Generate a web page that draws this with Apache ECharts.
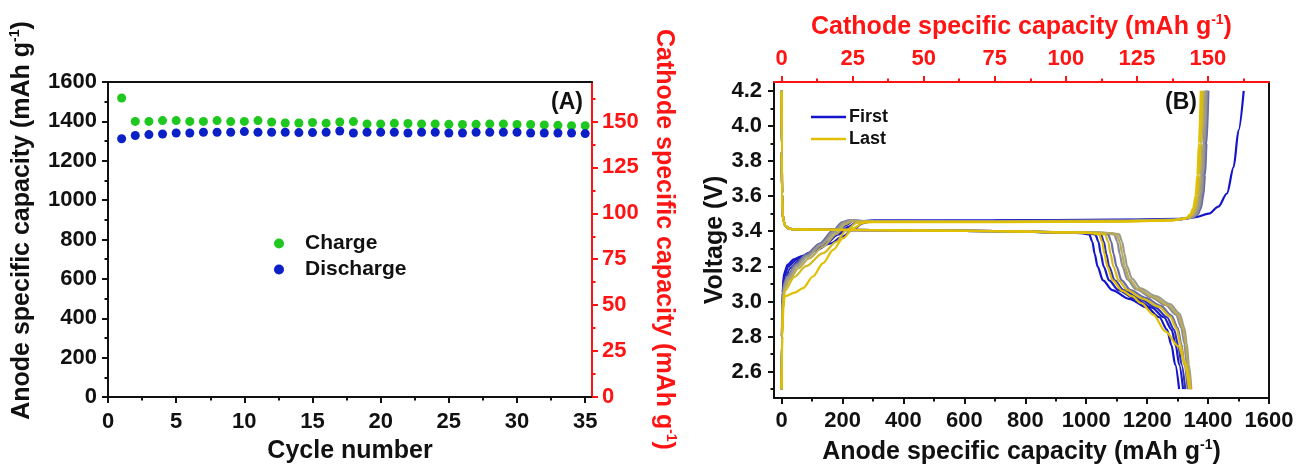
<!DOCTYPE html>
<html>
<head>
<meta charset="utf-8">
<script src="https://cdn.jsdelivr.net/npm/echarts@6/dist/echarts.min.js"></script>
<style>
  html, body { margin: 0; padding: 0; background: #fff; }
  #chart { width: 1296px; height: 465px; }
</style>
</head>
<body>
<div id="chart"></div>
<script>
  // ---- panel (A): capacity vs cycle ----
  const cycleNo = [1, 2, 3, 4, 5, 6, 7, 8, 9, 10, 11, 12, 13, 14, 15, 16, 17, 18, 19, 20,
    21, 22, 23, 24, 25, 26, 27, 28, 29, 30, 31, 32, 33, 34, 35]
  const chargeCap = [1519, 1400, 1400, 1404, 1404, 1400, 1400, 1404, 1399, 1400, 1404, 1397, 1392, 1392,
    1394, 1391, 1397, 1399, 1387, 1387, 1390, 1389, 1387, 1387, 1385, 1384, 1385, 1387, 1387, 1384,
    1384, 1382, 1380, 1378, 1378]
  const dischargeCap = [1312, 1328, 1333, 1336, 1341, 1341, 1345, 1345, 1345, 1348, 1345, 1345, 1345, 1343,
    1343, 1345, 1351, 1341, 1345, 1345, 1345, 1341, 1345, 1345, 1341, 1341, 1345, 1345, 1345, 1345,
    1341, 1341, 1341, 1341, 1338]
  const cycleTicks = [0, 5, 10, 15, 20, 25, 30, 35]
  const cycleMinor = [2.5, 7.5, 12.5, 17.5, 22.5, 27.5, 32.5]
  const anodeTicks = [0, 200, 400, 600, 800, 1000, 1200, 1400, 1600]
  const anodeMinor = [100, 300, 500, 700, 900, 1100, 1300, 1500]
  const cathodeTicks = [0, 25, 50, 75, 100, 125, 150]
  const cathodeMinor = [12.5, 37.5, 62.5, 87.5, 112.5, 137.5, 162.5]

  // ---- panel (B): voltage profiles, [anode capacity, voltage] ----
  const voltageTicks = [2.6, 2.8, 3.0, 3.2, 3.4, 3.6, 3.8, 4.0, 4.2]
  const voltageMinor = [2.5, 2.7, 2.9, 3.1, 3.3, 3.5, 3.7, 3.9, 4.1]

  const charge1 = [[0, 2.5], [1, 2.8], [3, 3.05], [8, 3.16], [20, 3.21], [40, 3.24], [70, 3.26], [110, 3.29], [160, 3.33], [200, 3.37], [235, 3.41], [265, 3.445], [300, 3.46], [700, 3.462], [1100, 3.466], [1314, 3.47], [1358, 3.48], [1402, 3.5], [1434, 3.54], [1462, 3.615], [1484, 3.766], [1500, 3.975], [1517, 4.2]]
  const charge2 = [[0, 2.5], [1, 2.8], [3, 3.03], [8, 3.14], [22, 3.2], [50, 3.24], [95, 3.28], [145, 3.33], [185, 3.38], [220, 3.425], [250, 3.455], [290, 3.46], [700, 3.46], [1100, 3.464], [1292, 3.466], [1342, 3.478], [1357, 3.495], [1367, 3.53], [1375, 3.6], [1381, 3.72], [1386, 3.9], [1392, 4.2]]
  const charge3 = [[0, 2.5], [1.5, 2.8], [4, 3.02], [10, 3.12], [28, 3.19], [60, 3.24], [105, 3.29], [150, 3.34], [185, 3.39], [212, 3.435], [235, 3.46], [280, 3.458], [700, 3.458], [1100, 3.462], [1298, 3.466], [1348, 3.478], [1363, 3.495], [1373, 3.53], [1381, 3.6], [1387, 3.72], [1392, 3.9], [1398, 4.2]]
  const charge4 = [[0, 2.5], [1, 2.8], [2, 3.0], [8, 3.1], [18, 3.14], [45, 3.21], [79, 3.265], [125, 3.33], [169, 3.405], [200, 3.452], [220, 3.462], [260, 3.458], [700, 3.457], [1100, 3.461], [1301, 3.466], [1351, 3.478], [1366, 3.495], [1376, 3.53], [1384, 3.6], [1390, 3.72], [1395, 3.9], [1401, 4.2]]
  const charge5 = [[0, 2.5], [1, 2.8], [2.5, 3.0], [9, 3.1], [20, 3.14], [48, 3.205], [82, 3.26], [128, 3.325], [172, 3.4], [203, 3.45], [225, 3.462], [265, 3.457], [700, 3.456], [1100, 3.46], [1296, 3.466], [1346, 3.478], [1361, 3.495], [1371, 3.53], [1379, 3.6], [1385, 3.72], [1390, 3.9], [1396, 4.2]]
  const charge6 = [[0, 2.5], [1, 2.8], [3, 3.0], [10, 3.09], [22, 3.13], [50, 3.2], [85, 3.255], [130, 3.32], [175, 3.395], [206, 3.448], [228, 3.46], [270, 3.456], [700, 3.455], [1100, 3.459], [1292, 3.465], [1342, 3.477], [1357, 3.495], [1367, 3.53], [1375, 3.6], [1381, 3.72], [1386, 3.9], [1392, 4.2]]
  const charge7 = [[0, 2.5], [1, 2.8], [3, 2.98], [12, 3.08], [26, 3.125], [55, 3.19], [90, 3.245], [135, 3.31], [180, 3.385], [210, 3.44], [232, 3.458], [275, 3.455], [700, 3.454], [1100, 3.458], [1286, 3.464], [1336, 3.476], [1351, 3.495], [1361, 3.53], [1369, 3.6], [1375, 3.72], [1380, 3.9], [1386, 4.2]]
  const charge8 = [[0, 2.5], [1.5, 2.8], [5, 2.98], [10, 3.06], [42, 3.14], [79, 3.2], [136, 3.275], [180, 3.34], [213, 3.407], [246, 3.448], [275, 3.455], [700, 3.453], [1100, 3.456], [1281, 3.462], [1331, 3.474], [1346, 3.495], [1356, 3.53], [1364, 3.6], [1370, 3.72], [1375, 3.9], [1381, 4.2]]
  const charge9 = [[0, 2.5], [2, 2.8], [6, 2.96], [10, 3.03], [43, 3.05], [70, 3.076], [103, 3.142], [136, 3.218], [169, 3.294], [202, 3.36], [235, 3.417], [268, 3.448], [300, 3.452], [700, 3.452], [1100, 3.455], [1276, 3.46], [1326, 3.472], [1341, 3.495], [1351, 3.53], [1359, 3.6], [1365, 3.72], [1370, 3.9], [1376, 4.2]]

  // every discharge starts with the same drop from 4.2 V onto the plateau
  const dischargeTop = [[0, 4.2], [0.5, 3.85], [1.5, 3.62], [3, 3.51], [6, 3.46], [12, 3.43], [25, 3.414], [45, 3.41], [300, 3.406], [700, 3.4]]
  const discharge1 = [[940, 3.393], [990, 3.388], [1010, 3.382], [1020, 3.34], [1028, 3.27], [1037, 3.2], [1055, 3.12], [1085, 3.065], [1140, 3.015], [1200, 2.965], [1240, 2.91], [1265, 2.84], [1280, 2.75], [1292, 2.64], [1305, 2.5]]
  const discharge2 = [[960, 3.393], [1010, 3.388], [1030, 3.382], [1040, 3.34], [1048, 3.27], [1057, 3.2], [1075, 3.12], [1105, 3.065], [1160, 3.015], [1215, 2.965], [1255, 2.91], [1280, 2.84], [1294, 2.75], [1305, 2.64], [1318, 2.5]]
  const discharge3 = [[980, 3.393], [1028, 3.388], [1048, 3.382], [1058, 3.34], [1066, 3.27], [1075, 3.2], [1093, 3.12], [1122, 3.065], [1175, 3.015], [1228, 2.965], [1265, 2.91], [1288, 2.84], [1302, 2.75], [1313, 2.64], [1325, 2.5]]
  const discharge4 = [[1000, 3.393], [1052, 3.388], [1072, 3.382], [1082, 3.34], [1090, 3.27], [1099, 3.2], [1116, 3.12], [1145, 3.065], [1195, 3.02], [1245, 2.975], [1280, 2.92], [1300, 2.85], [1312, 2.76], [1322, 2.64], [1333, 2.5]]
  const discharge5 = [[1020, 3.393], [1072, 3.388], [1092, 3.382], [1102, 3.34], [1110, 3.27], [1119, 3.2], [1135, 3.125], [1163, 3.07], [1212, 3.025], [1260, 2.98], [1295, 2.925], [1312, 2.85], [1322, 2.76], [1330, 2.64], [1340, 2.5]]
  const discharge6 = [[1036, 3.393], [1088, 3.388], [1108, 3.382], [1118, 3.34], [1126, 3.27], [1134, 3.2], [1150, 3.13], [1178, 3.075], [1228, 3.03], [1275, 2.985], [1307, 2.93], [1322, 2.85], [1330, 2.76], [1337, 2.64], [1345, 2.5]]
  const discharge7 = [[1028, 3.393], [1080, 3.388], [1100, 3.382], [1110, 3.34], [1118, 3.27], [1126, 3.2], [1142, 3.125], [1170, 3.07], [1220, 3.025], [1268, 2.98], [1302, 2.925], [1318, 2.85], [1327, 2.76], [1334, 2.64], [1343, 2.5]]
  const discharge8 = [[990, 3.393], [1042, 3.388], [1062, 3.382], [1072, 3.34], [1080, 3.27], [1089, 3.2], [1106, 3.12], [1135, 3.065], [1186, 3.015], [1238, 2.97], [1275, 2.915], [1297, 2.845], [1310, 2.755], [1322, 2.64], [1338, 2.5]]
  const discharge9 = [[970, 3.393], [1022, 3.388], [1042, 3.382], [1052, 3.34], [1060, 3.27], [1069, 3.2], [1087, 3.12], [1118, 3.06], [1150, 3.03], [1181, 2.99], [1220, 2.925], [1260, 2.83], [1302, 2.745], [1325, 2.65], [1335, 2.58], [1340, 2.5]]

  const chargeCurves = [charge1, charge2, charge3, charge4, charge5, charge6, charge7, charge8, charge9]
  const dischargeCurves = [discharge1, discharge2, discharge3, discharge4, discharge5, discharge6, discharge7, discharge8, discharge9]
  const curveNames = ['First', 'c2', 'c3', 'c4', 'c5', 'c6', 'c7', 'c8', 'Last']

  // styles
  const curveColors = ['#1414cc', '#1a1ac6', '#3030b8', '#6a6aa6', '#8e8e94', '#9c9c8a', '#b8aa58', '#d4ba1c', '#e0c000']
  const FONT = '"Liberation Sans", Arial, sans-serif'
  const BLACK = '#111'
  const RED = '#ff1414'
  const ANODE_PER_CATHODE = 9.33

  function nameStyle (color, padding) {
    return {
      color: color, fontSize: 25, fontWeight: 'bold', fontFamily: FONT,
      padding: padding || 0,
      rich: {
        sup: {color: color, fontSize: 14, fontWeight: 'bold', fontFamily: FONT, verticalAlign: 'top', lineHeight: 28}
      }
    }
  }

  function majorAxis (o) {
    return {
      type: 'value', gridIndex: o.grid, position: o.pos, min: o.min, max: o.max,
      splitLine: {show: false},
      axisLine: {show: true, onZero: false, lineStyle: {color: o.color, width: 2}},
      axisTick: {show: true, customValues: o.ticks, length: 6, lineStyle: {color: o.color, width: 2}},
      axisLabel: {
        show: true, customValues: o.ticks, margin: o.margin, color: o.color,
        fontSize: 22, fontWeight: 'bold', fontFamily: FONT,
        formatter: o.fmt || function (v) { return '' + v }
      },
      name: o.name, nameLocation: 'middle', nameGap: o.gap, nameRotate: o.rotate,
      nameTextStyle: nameStyle(o.color, o.namePad)
    }
  }

  function minorAxis (grid, pos, min, max, ticks, color) {
    return {
      type: 'value', gridIndex: grid, position: pos, min: min, max: max,
      splitLine: {show: false},
      axisLine: {show: false, onZero: false},
      axisLabel: {show: false},
      axisTick: {show: true, customValues: ticks, length: 3.5, lineStyle: {color: color, width: 2}}
    }
  }

  function frameAxis (grid, pos, min, max, color) {
    return {
      type: 'value', gridIndex: grid, position: pos, min: min, max: max,
      splitLine: {show: false},
      axisLine: {show: true, onZero: false, lineStyle: {color: color, width: 2}},
      axisTick: {show: false},
      axisLabel: {show: false}
    }
  }

  const chart = echarts.init(document.getElementById('chart'), null, {renderer: 'canvas'})

  const series = [
    {
      name: 'Charge', type: 'scatter', xAxisIndex: 0, yAxisIndex: 0,
      symbol: 'circle', symbolSize: 9, itemStyle: {color: '#1ec81e', opacity: 1},
      data: cycleNo.map((c, i) => [c, chargeCap[i]])
    },
    {
      name: 'Discharge', type: 'scatter', xAxisIndex: 0, yAxisIndex: 0,
      symbol: 'circle', symbolSize: 9, itemStyle: {color: '#0c20c8', opacity: 1},
      data: cycleNo.map((c, i) => [c, dischargeCap[i]])
    }
  ]

  chargeCurves.forEach((curve, i) => {
    const common = {
      name: curveNames[i], type: 'line', xAxisIndex: 3, yAxisIndex: 4,
      showSymbol: false, symbol: 'none', smooth: 0.3, smoothMonotone: 'x',
      lineStyle: {color: curveColors[i], width: 2.2}, itemStyle: {color: curveColors[i]},
      z: 2 + i
    }
    series.push(Object.assign({}, common, {data: curve}))
    series.push(Object.assign({}, common, {data: dischargeTop.concat(dischargeCurves[i])}))
  })

  chart.setOption({
    animation: false,
    backgroundColor: '#fff',
    grid: [
      {left: 108, top: 82, width: 484, height: 315, outerBoundsMode: 'none'},
      {left: 774, top: 82, width: 495, height: 316, outerBoundsMode: 'none'}
    ],
    xAxis: [
      majorAxis({grid: 0, pos: 'bottom', min: 0, max: 35.5, ticks: cycleTicks, color: BLACK, margin: 14,
        name: 'Cycle number', gap: 42}),
      minorAxis(0, 'bottom', 0, 35.5, cycleMinor, BLACK),
      frameAxis(0, 'top', 0, 35.5, BLACK),
      majorAxis({grid: 1, pos: 'bottom', min: -25, max: 1600, ticks: anodeTicks, color: BLACK, margin: 12,
        name: 'Anode specific capacity (mAh g{sup|-1})', gap: 40}),
      minorAxis(1, 'bottom', -25, 1600, anodeMinor, BLACK),
      majorAxis({grid: 1, pos: 'top', min: -25 / ANODE_PER_CATHODE, max: 1600 / ANODE_PER_CATHODE,
        ticks: cathodeTicks, color: RED, margin: 12,
        name: 'Cathode specific capacity (mAh g{sup|-1})', gap: 41}),
      minorAxis(1, 'top', -25 / ANODE_PER_CATHODE, 1600 / ANODE_PER_CATHODE, cathodeMinor, RED)
    ],
    yAxis: [
      majorAxis({grid: 0, pos: 'left', min: 0, max: 1600, ticks: anodeTicks, color: BLACK, margin: 11,
        name: 'Anode specific capacity (mAh g{sup|-1})', gap: 72, namePad: [0, 0, 0, 38]}),
      minorAxis(0, 'left', 0, 1600, anodeMinor, BLACK),
      majorAxis({grid: 0, pos: 'right', min: 0, max: 1600 / ANODE_PER_CATHODE, ticks: cathodeTicks, color: RED,
        margin: 10, name: 'Cathode specific capacity (mAh g{sup|-1})', gap: 58, rotate: -90}),
      minorAxis(0, 'right', 0, 1600 / ANODE_PER_CATHODE, cathodeMinor, RED),
      majorAxis({grid: 1, pos: 'left', min: 2.45, max: 4.25, ticks: voltageTicks, color: BLACK, margin: 12,
        name: 'Voltage (V)', gap: 46, fmt: function (v) { return v.toFixed(1) }}),
      minorAxis(1, 'left', 2.45, 4.25, voltageMinor, BLACK),
      frameAxis(1, 'right', 2.45, 4.25, BLACK)
    ],
    legend: [
      {
        data: ['Charge', 'Discharge'], orient: 'vertical', left: 269, top: 228,
        icon: 'circle', itemWidth: 10, itemHeight: 10, itemGap: 5,
        itemStyle: {opacity: 1},
        textStyle: {fontSize: 21, fontWeight: 'bold', fontFamily: FONT, color: BLACK, padding: [0, 0, 0, 16]}
      },
      {
        data: ['First', 'Last'], orient: 'vertical', left: 806, top: 103,
        icon: 'rect', itemWidth: 35, itemHeight: 2.5, itemGap: 4,
        textStyle: {fontSize: 18, fontWeight: 'bold', fontFamily: FONT, color: BLACK, padding: [0, 0, 0, -2]}
      }
    ],
    graphic: [
      {type: 'text', x: 567, y: 103, style: {text: '(A)', fill: BLACK, font: 'bold 23px ' + FONT, align: 'center', verticalAlign: 'middle'}},
      {type: 'text', x: 1181, y: 103, style: {text: '(B)', fill: BLACK, font: 'bold 23px ' + FONT, align: 'center', verticalAlign: 'middle'}}
    ],
    series: series
  })
</script>
</body>
</html>
